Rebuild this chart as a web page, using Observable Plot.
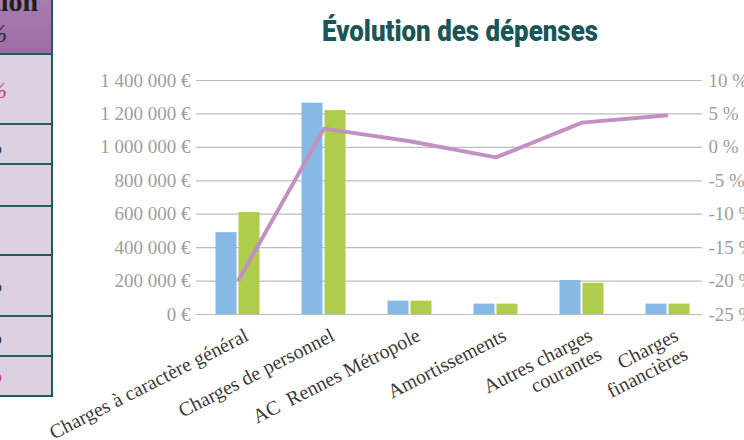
<!DOCTYPE html>
<html>
<head>
<meta charset="utf-8">
<script src="https://cdn.jsdelivr.net/npm/d3@7"></script>
<script src="https://cdn.jsdelivr.net/npm/@observablehq/plot@0.6"></script>
<style>
  html, body { margin: 0; padding: 0; background: #fff; }
  body { width: 744px; height: 440px; overflow: hidden; position: relative; font-family: "Liberation Serif", serif; }
  #title { position: absolute; left: 0; top: 0; }
  #chart { position: absolute; left: 0; top: 60px; }
  #table { position: absolute; left: 0; top: 0; width: 51px; height: 395px; overflow: hidden;
           background: #ddd0e1; border-right: 2px solid #1f5c5f; border-bottom: 2px solid #1f5c5f; }
  #table .hdr { position: absolute; left: 0; top: 0; width: 51px; height: 53px; background: linear-gradient(#a97db0, #9d6ca5); border-bottom: 2px solid #1f5c5f; }
  #table .line { position: absolute; left: 0; width: 51px; height: 2px; background: #1f5c5f; }
  #table .t { position: absolute; white-space: nowrap; line-height: 1; }
</style>
</head>
<body>
<div id="table">
  <div class="hdr"></div>
  <div class="line" style="top:123px"></div>
  <div class="line" style="top:163px"></div>
  <div class="line" style="top:205px"></div>
  <div class="line" style="top:254px"></div>
  <div class="line" style="top:315px"></div>
  <div class="line" style="top:355px"></div>
  <div class="t" style="right:13px;top:-12px;font-weight:bold;font-size:28px;color:#1e1e1e;">Variation</div>
  <div class="t" style="right:44px;top:21px;font-style:italic;font-size:25px;color:#2a2a2a;">en %</div>
  <div class="t" style="right:44px;top:78px;font-style:italic;font-size:24px;color:#c2407f;">%</div>
  <div class="t" style="right:49px;top:137px;font-size:20px;color:#333;">%</div>
  <div class="t" style="right:49px;top:275px;font-size:20px;color:#333;">%</div>
  <div class="t" style="right:49px;top:327px;font-size:20px;color:#333;">%</div>
  <div class="t" style="right:49px;top:365px;font-size:20px;color:#c2407f;">%</div>
</div>
<svg id="title" width="744" height="60">
  <text x="322" y="41" textLength="276" lengthAdjust="spacingAndGlyphs"
        style="font-family: Roboto, 'DejaVu Sans', sans-serif; font-weight: 900; font-size: 29px; fill: #1a5558;">Évolution des dépenses</text>
</svg>
<div id="chart"></div>
<script>
// ---- Data ----
const categories = [
  "Charges à caractère général",
  "Charges de personnel",
  "AC\u00a0 Rennes Métropole",
  "Amortissements",
  "Autres charges\ncourantes",
  "Charges\nfinancières"
];
const seriesNames = ["Année N-1", "Année N"];
const valuesN1 = [490000, 1264000, 80000, 62000, 203000, 62000];
const valuesN  = [610000, 1220000, 80000, 62000, 187000, 62000];
const variation = [-20.0, 2.8, 0.9, -1.5, 3.7, 4.8];
const moneyTicks = [0, 200000, 400000, 600000, 800000, 1000000, 1200000, 1400000];
const pctTicks = [-25, -20, -15, -10, -5, 0, 5, 10];

// ---- Derived tables ----
const moneyMax = 1400000;
const pctMin = -25, pctMax = 10;
const toMoney = p => (p - pctMin) / (pctMax - pctMin) * moneyMax;

const barsN1 = categories.map((c, i) => ({cat: c, series: seriesNames[0], value: valuesN1[i]}));
const barsN  = categories.map((c, i) => ({cat: c, series: seriesNames[1], value: valuesN[i]}));
const lineData = categories.map((c, i) => ({cat: c, pct: variation[i]}));

const fmtEuro = v => (v === 0 ? "0" : d3.format(",")(v).replace(/,/g, "\u00a0")) + "\u00a0€";

const FONT = "Liberation Serif, serif";

const chart = Plot.plot({
  width: 744,
  height: 380,
  marginLeft: 196,
  marginRight: 42,
  marginTop: 20,
  marginBottom: 126,
  style: {fontFamily: FONT, fontSize: "19px", background: "transparent"},
  x: {type: "band", domain: categories, range: [194, 710], paddingInner: 0.756, paddingOuter: 0.378, axis: null},
  y: {domain: [0, moneyMax], axis: null},
  marks: [
    Plot.ruleY(moneyTicks, {stroke: "#bdbdbd", strokeWidth: 1.2}),
    Plot.barY(barsN1, {x: "cat", y: "value", fill: "#86b9e3", dx: -11.5}),
    Plot.barY(barsN, {x: "cat", y: "value", fill: "#afcd4d", dx: 11.5}),
    Plot.line(lineData, {x: "cat", y: d => toMoney(d.pct), stroke: "#c390c3", strokeWidth: 4, strokeLinejoin: "round", strokeLinecap: "butt"}),
    Plot.axisY({ticks: moneyTicks, tickFormat: fmtEuro, tickSize: 0, tickPadding: 6, label: null,
                fill: "#9e9e9e", fontSize: 19, fontFamily: FONT}),
    Plot.axisY({anchor: "right", ticks: pctTicks.map(toMoney), tickFormat: (v, i) => `${pctTicks[i]}\u00a0%`,
                tickSize: 0, tickPadding: 6, label: null, fill: "#9e9e9e", fontSize: 19, fontFamily: FONT}),
    Plot.text(categories, {
      x: d => d, text: d => d,
      frameAnchor: "bottom", textAnchor: "end", lineAnchor: "top", lineHeight: 1.05,
      rotate: -27, dx: 5, dy: 12,
      fill: "#3a3a3a", fontSize: 20, fontFamily: FONT
    })
  ]
});
document.getElementById("chart").appendChild(chart);
</script>
</body>
</html>
